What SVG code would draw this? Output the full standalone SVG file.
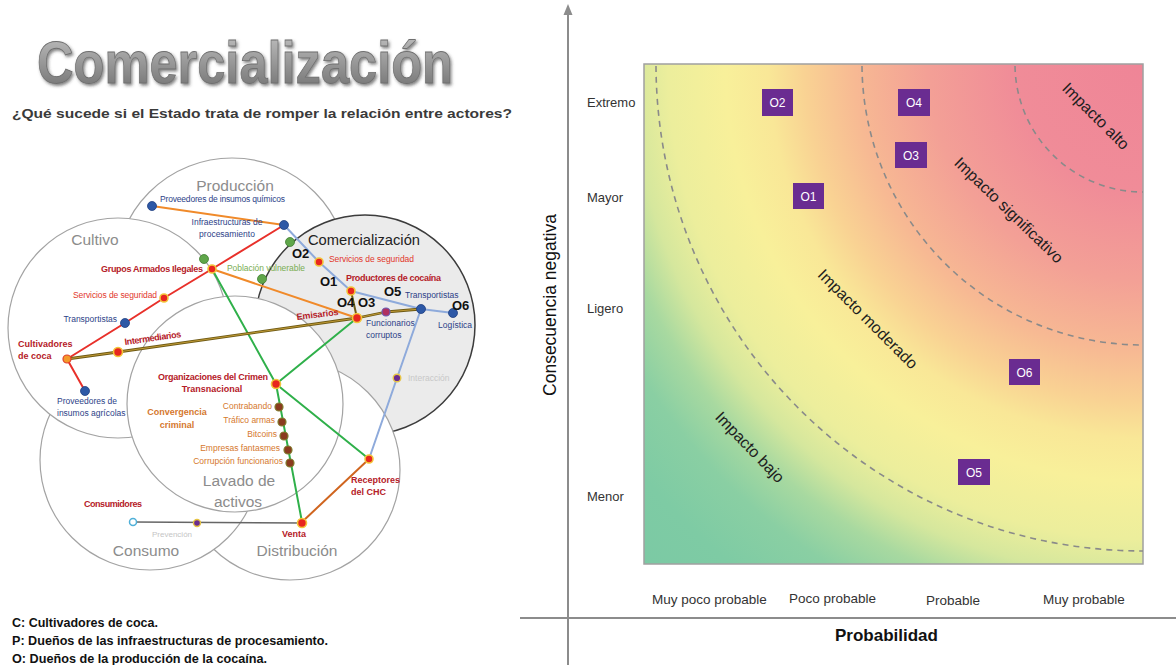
<svg xmlns="http://www.w3.org/2000/svg" width="1176" height="665" viewBox="0 0 1176 665">
<defs>
<style>
text{font-family:"Liberation Sans",Arial,sans-serif}
.circ{fill:#fff;stroke:#a3a3a3;stroke-width:1.2}
.reg{fill:#8c8c8c;font-size:15.5px;text-anchor:middle}
.blue{fill:#2c3f88;font-size:8.5px}
.red{fill:#e2372c;font-size:8.5px}
.dred{fill:#b52028;font-size:9px;font-weight:bold}
.org{fill:#d5782d;font-size:8.5px;text-anchor:end}
.obj{fill:#111;font-size:13px;font-weight:bold}
.dr{fill:#e8261f;stroke:#f3c63a;stroke-width:1.6}
.db{fill:#2d58a6;stroke:#1f3f80;stroke-width:.8}
.dg{fill:#5fa64a;stroke:#3f7e30;stroke-width:.8}
.dbr{fill:#8a3b1f;stroke:#7f7a2a;stroke-width:1.2}
.dp{fill:#6b2c8f;stroke:#e7c544;stroke-width:1.4}
.lev{fill:#333;font-size:13px}
.xl{fill:#333;font-size:13.5px}
.box{fill:#6a2c91}
.boxt{fill:#fff;font-size:12px;text-anchor:middle}
.zone{fill:#1e1e1e;font-size:16px;text-anchor:middle}
.arc{fill:none;stroke:#8a8a8a;stroke-width:1.6;stroke-dasharray:6 5}
.axis{stroke:#8c8c8c;stroke-width:2;fill:none}
.leg{fill:#111;font-size:12.5px;font-weight:bold}
</style>
<linearGradient id="tg" x1="0" y1="0" x2="0" y2="1">
<stop offset="0" stop-color="#c4c4c4"/><stop offset="1" stop-color="#6c6c6c"/>
</linearGradient>
<filter id="sh" x="-5%" y="-20%" width="110%" height="150%">
<feDropShadow dx="1.5" dy="2" stdDeviation="1.6" flood-color="#333" flood-opacity="0.6"/>
</filter>
<radialGradient id="heat" gradientUnits="userSpaceOnUse" cx="1143" cy="64" r="720">
<stop offset="0" stop-color="#ef8597"/>
<stop offset="0.18" stop-color="#f08c98"/>
<stop offset="0.30" stop-color="#f3a096"/>
<stop offset="0.40" stop-color="#f7b993"/>
<stop offset="0.47" stop-color="#f9d293"/>
<stop offset="0.52" stop-color="#f9e797"/>
<stop offset="0.58" stop-color="#f8f09a"/>
<stop offset="0.66" stop-color="#ecee9c"/>
<stop offset="0.71" stop-color="#d5e79d"/>
<stop offset="0.76" stop-color="#a8d9a0"/>
<stop offset="0.82" stop-color="#8acfa3"/>
<stop offset="0.90" stop-color="#7ecba4"/>
<stop offset="1" stop-color="#7bc9a4"/>
</radialGradient>
</defs>
<rect width="1176" height="665" fill="#fff"/>

<g id="title">
<text x="37" y="83" font-size="60" font-weight="bold" textLength="416" lengthAdjust="spacingAndGlyphs" fill="url(#tg)" stroke="#6f6f6f" stroke-width="0.8" filter="url(#sh)">Comercialización</text>
<text x="12" y="118" font-size="13.5" font-weight="bold" fill="#3a3a3a" textLength="500" lengthAdjust="spacingAndGlyphs">¿Qué sucede si el Estado trata de romper la relación entre actores?</text>
</g>

<g id="regions">
<g id="r-produccion"><circle class="circ" cx="232" cy="275" r="117"/><text class="reg" x="235" y="191">Producción</text></g>
<g id="r-comercializacion"><circle cx="365" cy="325" r="110" fill="#ebebeb" stroke="#3c3c3c" stroke-width="1.5"/><text x="364" y="245" fill="#222" font-size="15.5" text-anchor="middle" textLength="112" lengthAdjust="spacingAndGlyphs">Comercialización</text></g>
<g id="r-distribucion"><circle class="circ" cx="290" cy="470" r="110"/><text class="reg" x="297" y="556">Distribución</text></g>
<g id="r-consumo"><circle class="circ" cx="150" cy="460" r="110"/><text class="reg" x="146" y="556">Consumo</text></g>
<g id="r-cultivo"><circle class="circ" cx="118" cy="328" r="110"/><text class="reg" x="95" y="245">Cultivo</text></g>
<g id="r-lavado"><circle class="circ" cx="235" cy="404" r="108"/><text class="reg" x="239" y="486">Lavado de</text><text class="reg" x="238" y="507">activos</text></g>
</g>

<g id="connectors" fill="none" stroke-linecap="round" stroke-linejoin="round">
<line x1="152" y1="206" x2="284" y2="225" stroke="#f08a2a" stroke-width="2"/>
<polyline points="284,225 212,269 164,298 125,323 67,359 85,391" stroke="#e8302a" stroke-width="2"/>
<polyline points="284,225 319,262 351,291 421,309 453,313" stroke="#8eaadb" stroke-width="2"/>
<polyline points="421,309 397,378 369,459" stroke="#8eaadb" stroke-width="2"/>
<line x1="212" y1="269" x2="357" y2="318" stroke="#f08a2a" stroke-width="2"/>
<line x1="212" y1="269" x2="276" y2="384" stroke="#2fb04a" stroke-width="2"/>
<line x1="276" y1="384" x2="302" y2="522" stroke="#2fb04a" stroke-width="2"/>
<line x1="276" y1="384" x2="357" y2="318" stroke="#2fb04a" stroke-width="2"/>
<line x1="276" y1="384" x2="369" y2="459" stroke="#2fb04a" stroke-width="2"/>
<polyline points="67,359 118,352 357,318 386,312 421,309" stroke="#6e5a14" stroke-width="2.8"/>
<polyline points="67,359 118,352 357,318 386,312 421,309" stroke="#c9a23a" stroke-width="0.9"/>
<line x1="351" y1="291" x2="357" y2="318" stroke="#6e5a14" stroke-width="2"/>
<line x1="369" y1="459" x2="302" y2="522" stroke="#d0651f" stroke-width="2"/>
<line x1="133" y1="522" x2="302" y2="523" stroke="#666" stroke-width="1.6"/>
</g>

<g id="nodes">
<g id="n-prov-quimicos"><circle class="db" cx="152" cy="206" r="4.5"/><text class="blue" x="160" y="202" textLength="125">Proveedores de insumos químicos</text></g>
<g id="n-infraestructuras"><circle class="db" cx="284" cy="225" r="4.5"/><text class="blue" x="227" y="225" text-anchor="middle">Infraestructuras de</text><text class="blue" x="227" y="237" text-anchor="middle">procesamiento</text></g>
<g id="n-grupos"><circle class="dr" cx="212" cy="269" r="4"/><text class="dred" x="203" y="272" text-anchor="end" textLength="102">Grupos Armados Ilegales</text></g>
<g id="n-serv-cultivo"><circle class="dr" cx="164" cy="298" r="4"/><text class="red" x="157" y="298" text-anchor="end" textLength="84">Servicios de seguridad</text></g>
<g id="n-transp-cultivo"><circle class="db" cx="125" cy="323" r="4.5"/><text class="blue" x="117" y="322" text-anchor="end">Transportistas</text></g>
<g id="n-cultivadores"><circle cx="67" cy="359" r="4" fill="#f39a2a" stroke="#e0402a" stroke-width="1.2"/><text class="dred" x="18" y="347">Cultivadores</text><text class="dred" x="18" y="359">de coca</text></g>
<g id="n-intermediarios"><circle class="dr" cx="118" cy="352" r="4.5"/><text class="dred" x="125" y="345" transform="rotate(-8 125 345)" textLength="57">Intermediarios</text></g>
<g id="n-prov-agricolas"><circle class="db" cx="85" cy="391" r="4.5"/><text class="blue" x="57" y="404">Proveedores de</text><text class="blue" x="57" y="416">insumos agrícolas</text></g>
<g id="n-poblacion"><circle class="dg" cx="204" cy="259" r="4.5"/><circle class="dg" cx="262" cy="279" r="4.5"/><circle class="dg" cx="290" cy="242" r="4.5"/><text x="227" y="271" fill="#79ad52" font-size="8.5" textLength="78">Población vulnerable</text></g>
<g id="n-serv-comerc"><circle class="dr" cx="319" cy="262" r="4"/><text class="red" x="329" y="262" textLength="85">Servicios de seguridad</text></g>
<g id="n-productores"><circle class="dr" cx="351" cy="291" r="4"/><text class="dred" x="346" y="281" font-size="9.5" textLength="95">Productores de cocaína</text></g>
<g id="n-emisarios"><circle class="dr" cx="357" cy="318" r="4.5"/><text class="dred" x="297" y="320" transform="rotate(-7 297 320)" textLength="42">Emisarios</text></g>
<g id="n-funcionarios"><circle cx="386" cy="312" r="4" fill="#b03060" stroke="#6a5ab0" stroke-width="1.2"/><text class="blue" x="366" y="326">Funcionarios</text><text class="blue" x="366" y="338">corruptos</text></g>
<g id="n-transp-comerc"><circle class="db" cx="421" cy="309" r="4.5"/><text class="blue" x="405" y="298">Transportistas</text></g>
<g id="n-logistica"><circle class="db" cx="453" cy="313" r="4.5"/><text class="blue" x="438" y="328">Logística</text></g>
<g id="n-interaccion"><circle class="dp" cx="397" cy="378" r="3.8"/><text x="408" y="381" fill="#c8c8c8" font-size="8.5">Interacción</text></g>
<g id="n-organizaciones"><circle class="dr" cx="276" cy="384" r="4.5"/><text class="dred" x="213" y="380" text-anchor="middle" textLength="110">Organizaciones del Crimen</text><text class="dred" x="212" y="392" text-anchor="middle">Transnacional</text></g>
<g id="n-convergencia"><text x="177" y="415" fill="#d5782d" font-size="9" font-weight="bold" text-anchor="middle">Convergencia</text><text x="177" y="428" fill="#d5782d" font-size="9" font-weight="bold" text-anchor="middle">criminal</text></g>
<g id="n-contrabando"><circle class="dbr" cx="279" cy="407" r="4"/><text class="org" x="272" y="409">Contrabando</text></g>
<g id="n-trafico"><circle class="dbr" cx="282" cy="422" r="4"/><text class="org" x="275" y="423">Tráfico armas</text></g>
<g id="n-bitcoins"><circle class="dbr" cx="284" cy="436" r="4"/><text class="org" x="277" y="437">Bitcoins</text></g>
<g id="n-empresas"><circle class="dbr" cx="288" cy="450" r="4"/><text class="org" x="280" y="451">Empresas fantasmes</text></g>
<g id="n-corrupcion"><circle class="dbr" cx="290" cy="463" r="4"/><text class="org" x="283" y="464">Corrupción funcionarios</text></g>
<g id="n-receptores"><circle class="dr" cx="369" cy="459" r="4"/><text class="dred" x="351" y="483">Receptores</text><text class="dred" x="351" y="495">del CHC</text></g>
<g id="n-venta"><circle class="dr" cx="302" cy="523" r="4.5"/><text class="dred" x="294" y="537" text-anchor="middle">Venta</text></g>
<g id="n-consumidores"><circle cx="133" cy="522" r="3.5" fill="#fff" stroke="#4fb0d8" stroke-width="1.5"/><text class="dred" x="84" y="507" textLength="58">Consumidores</text></g>
<g id="n-prevencion"><circle class="dp" cx="197" cy="523" r="3.5"/><text x="152" y="537" fill="#c5c5c5" font-size="8">Prevención</text></g>
<g id="objectives">
<text class="obj" x="292" y="258">O2</text>
<text class="obj" x="320" y="286">O1</text>
<text class="obj" x="384" y="296">O5</text>
<text class="obj" x="337" y="307">O4 O3</text>
<text class="obj" x="452" y="310">O6</text>
</g>
</g>

<g id="legend">
<text class="leg" x="12" y="627" textLength="146" lengthAdjust="spacingAndGlyphs">C: Cultivadores de coca.</text>
<text class="leg" x="12" y="645" textLength="316" lengthAdjust="spacingAndGlyphs">P: Dueños de las infraestructuras de procesamiento.</text>
<text class="leg" x="12" y="663" textLength="255" lengthAdjust="spacingAndGlyphs">O: Dueños de la producción de la cocaína.</text>
</g>

<g id="chart">
<rect x="644" y="64" width="499" height="500" fill="url(#heat)" stroke="#a0a0a0" stroke-width="1.5"/>
<path class="arc" d="M656,66 A487,487 0 0 0 1143,551"/>
<path class="arc" d="M862,66 A281,281 0 0 0 1143,345"/>
<path class="arc" d="M1015,66 A128,128 0 0 0 1143,192"/>
<text class="zone" transform="translate(1096,116) rotate(45)" dy="0.35em">Impacto alto</text>
<text class="zone" transform="translate(1009,210) rotate(44)" dy="0.35em">Impacto significativo</text>
<text class="zone" transform="translate(868,319) rotate(45)" dy="0.35em">Impacto moderado</text>
<text class="zone" transform="translate(750,447) rotate(46)" dy="0.35em">Impacto bajo</text>
<g id="o2"><rect class="box" x="762" y="89" width="31" height="27"/><text class="boxt" x="777.5" y="107">O2</text></g>
<g id="o4"><rect class="box" x="898" y="89" width="32" height="27"/><text class="boxt" x="914" y="107">O4</text></g>
<g id="o3"><rect class="box" x="895" y="142" width="32" height="26"/><text class="boxt" x="911" y="160">O3</text></g>
<g id="o1"><rect class="box" x="793" y="183" width="31" height="26"/><text class="boxt" x="808.5" y="201">O1</text></g>
<g id="o6"><rect class="box" x="1009" y="359" width="31" height="26"/><text class="boxt" x="1024.5" y="377">O6</text></g>
<g id="o5"><rect class="box" x="958" y="459" width="32" height="26"/><text class="boxt" x="974" y="477">O5</text></g>
<text class="lev" x="587" y="107">Extremo</text>
<text class="lev" x="587" y="202">Mayor</text>
<text class="lev" x="587" y="313">Ligero</text>
<text class="lev" x="587" y="501">Menor</text>
<text class="xl" x="652" y="604">Muy poco probable</text>
<text class="xl" x="789" y="603">Poco probable</text>
<text class="xl" x="926" y="605">Probable</text>
<text class="xl" x="1043" y="604">Muy probable</text>
<line class="axis" x1="568" y1="12" x2="568" y2="665"/>
<polygon points="568,4 563.5,15 572.5,15" fill="#8c8c8c"/>
<line class="axis" x1="520" y1="618" x2="1176" y2="618"/>
<text x="835" y="641" font-size="17" font-weight="bold" fill="#111">Probabilidad</text>
<text transform="translate(556,305) rotate(-90)" text-anchor="middle" font-size="17.5" fill="#111">Consecuencia negativa</text>
</g>
</svg>
